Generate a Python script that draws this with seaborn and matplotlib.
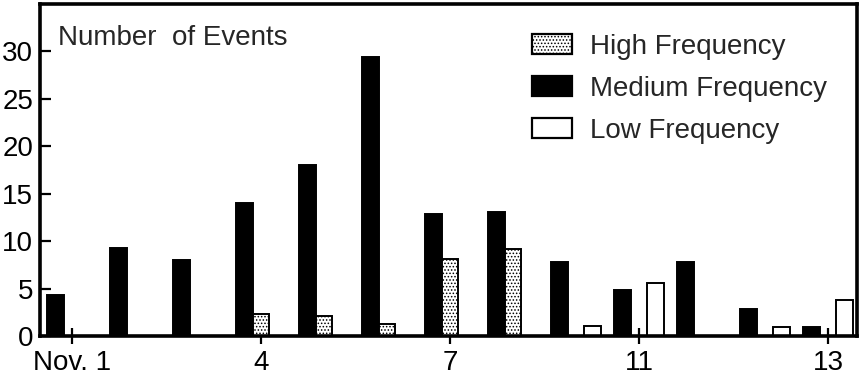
import numpy as np
import pandas as pd
import matplotlib
matplotlib.use("Agg")
import matplotlib.pyplot as plt
import matplotlib.patches as mpatches
import seaborn as sns

# values (13 daily groups)
days = list(range(13))
medium = [4.3, 9.3, 8.0, 14.0, 18.0, 29.4, 12.9, 13.1, 7.8, 4.9, 7.8, 2.8, 1.0]
high = [0, 0, 0, 2.3, 2.1, 1.3, 8.1, 9.2, 0, 0, 0, 0, 0]
low = [0, 0, 0, 0, 0, 0, 0, 0, 1.1, 5.6, 0, 0.9, 3.8]
tick_pos = [0, 3, 6, 9, 12]
tick_labels = ["Nov. 1", "4", "7", "11", "13"]
y_ticks = [0, 5, 10, 15, 20, 25, 30]

df = pd.DataFrame({
    "day": days * 3,
    "count": medium + high + low,
    "freq": ["Medium"] * 13 + ["High"] * 13 + ["Low"] * 13,
})

sns.set_style("ticks")
plt.rcParams["font.family"] = ["Liberation Sans", "DejaVu Sans"]
plt.rcParams["hatch.linewidth"] = 0.7

FS = 20

fig = plt.figure(figsize=(8.64, 3.79), dpi=100)
ax = fig.add_axes([40 / 864, 43 / 379, 817 / 864, 332 / 379])

sns.barplot(
    data=df, x="day", y="count", hue="freq",
    hue_order=["Medium", "High", "Low"],
    palette={"Medium": "black", "High": "white", "Low": "white"},
    edgecolor="black", linewidth=1.4, saturation=1, width=0.8,
    errorbar=None, legend=False, ax=ax,
)

# stipple for the high frequency bars
for p in ax.containers[1]:
    p.set_hatch(".....")

ax.set_xlim(-0.51, 12.46)
ax.set_ylim(0, 35)
ax.set_yticks(y_ticks)
ax.set_xticks(tick_pos)
ax.set_xticklabels(tick_labels)
ax.set_xlabel("")
ax.set_ylabel("")

for s in ax.spines.values():
    s.set_visible(True)
    s.set_linewidth(2.6)
    s.set_color("black")

ax.tick_params(axis="x", direction="inout", length=12, width=1.6,
               labelsize=FS, pad=4, colors="black")
ax.tick_params(axis="y", direction="in", length=8, width=1.6,
               labelsize=FS, pad=5, colors="black")

ax.text(0.022, 0.876, "Number  of Events", transform=ax.transAxes,
        fontsize=FS, va="baseline", ha="left")

handles = [
    mpatches.Patch(facecolor="white", edgecolor="black", hatch=".....",
                   linewidth=1.6, label="High Frequency"),
    mpatches.Patch(facecolor="black", edgecolor="black",
                   linewidth=1.6, label="Medium Frequency"),
    mpatches.Patch(facecolor="white", edgecolor="black",
                   linewidth=1.6, label="Low Frequency"),
]
ax.legend(handles=handles, loc="upper left", bbox_to_anchor=(0.602, 0.91),
          frameon=False, fontsize=FS, handlelength=1.45, handleheight=0.74,
          handletextpad=0.65, labelspacing=0.58, borderpad=0, borderaxespad=0)

fig.savefig("out.png", dpi=100)
